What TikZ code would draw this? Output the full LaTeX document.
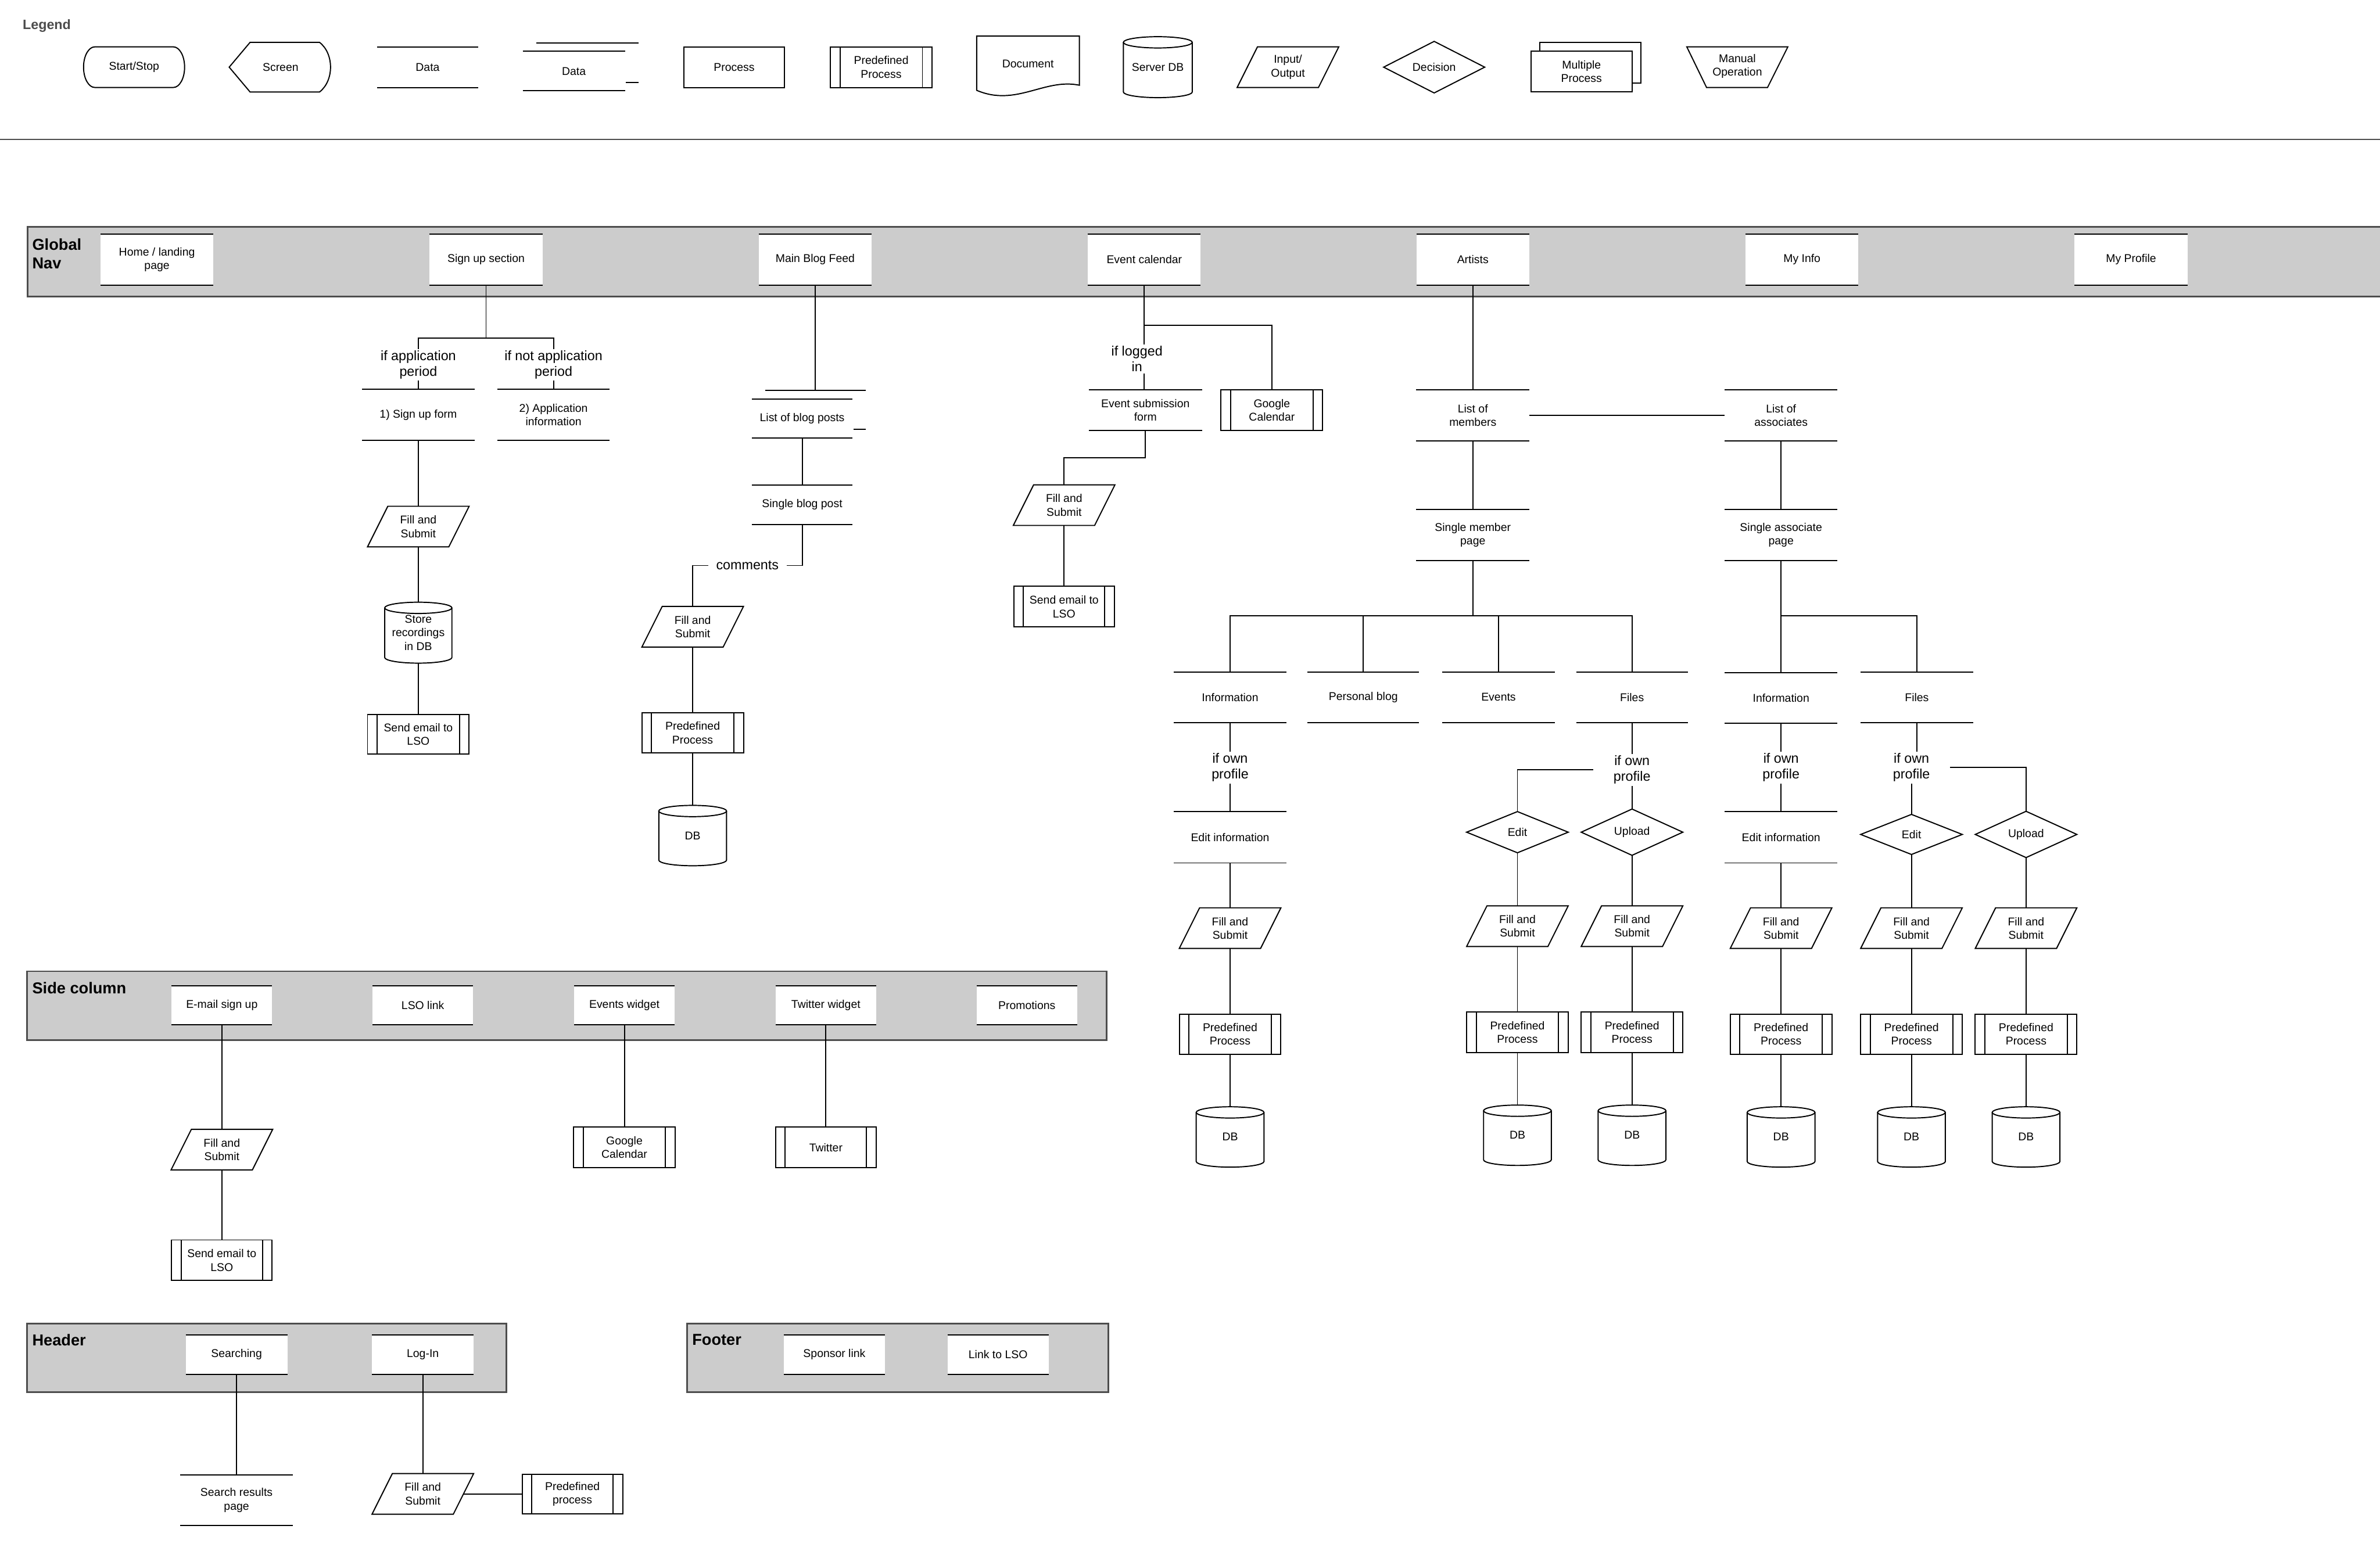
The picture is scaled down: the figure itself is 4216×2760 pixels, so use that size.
\documentclass[tikz,border=0pt]{standalone}
\usepackage{fontspec}
\setmainfont{Liberation Sans}
\usetikzlibrary{shapes.geometric,calc}
\definecolor{bandgray}{HTML}{CCCCCC}
\definecolor{bandedge}{HTML}{4D4D4D}
\tikzset{
  ln/.style={draw=black, line width=2pt},
  sz/.style 2 args={minimum width=#1pt, minimum height=#2pt},
  txt/.style={inner sep=0pt, outer sep=0pt, align=center, font=\fontsize{20}{24}\selectfont},
  lbl/.style={fill=white, inner xsep=14pt, inner ysep=3pt, outer sep=0pt, align=center, font=\fontsize{24}{28}\selectfont},
  ttl/.style={inner sep=0pt, anchor=west, align=left, font=\fontsize{28}{33}\selectfont\bfseries},
  band/.style={fill=bandgray, draw=bandedge, line width=3pt},
  datab/.style={txt, append after command={(\tikzlastnode.north west) edge[ln] (\tikzlastnode.north east) (\tikzlastnode.south west) edge[ln] (\tikzlastnode.south east)}},
  navb/.style={datab, fill=white},
  procb/.style={txt, ln, fill=white},
  predb/.style={txt, ln, fill=white, append after command={([xshift=17pt]\tikzlastnode.north west) edge[ln] ([xshift=17pt]\tikzlastnode.south west) ([xshift=-17pt]\tikzlastnode.north east) edge[ln] ([xshift=-17pt]\tikzlastnode.south east)}},
  decb/.style={txt, diamond, ln, fill=white},
}
% parallelogram (input/output)
\newcommand\mkio[4]{%
  \node[txt, sz={144}{72}] (#1) at (#2,#3) {#4};
  \draw[ln] ($(#1.north west)+(18,0)$) -- ($(#1.north east)+(18,0)$) -- ($(#1.south east)+(-18,0)$) -- ($(#1.south west)+(-18,0)$) -- cycle;}
% cylinder
\newcommand\mkcyl[6]{%
  \node[txt, sz={#4}{#5}] (#1) at (#2,#3) {#6};
  \draw[ln] ($(#1.north west)+(0,-10)$) -- ($(#1.south west)+(0,10)$) arc[start angle=180, end angle=360, x radius=#4pt/2, y radius=10pt] -- ($(#1.north east)+(0,-10)$);
  \draw[ln] ($(#1.north)+(0,-10)$) ellipse[x radius=#4pt/2, y radius=10pt];}
% data with offset line
\newcommand\mkdtwo[6]{%
  \node[datab, sz={#4}{#5}] (#1) at (#2,#3) {#6};
  \coordinate (#1-top) at ($(#1.north)+(0,15)$);
  \draw[ln] ($(#1.north west)+(24,15)$) -- ($(#1.north east)+(24,15)$);
  \draw[ln] ($(#1.south east)+(2,15)$) -- ($(#1.south east)+(24,15)$);}
\begin{document}
\begin{tikzpicture}[x=1pt,y=1pt]
\useasboundingbox (0,0) rectangle (4216,-2760);
% ---------------- Legend ----------------
\node[inner sep=0pt, anchor=west, font=\fontsize{24}{28}\selectfont\bfseries, text=black!70] (legt) at (40,-46) {Legend};
\draw[ln] (168,-83) -- (307,-83) arc[start angle=90,end angle=-90,x radius=20pt,y radius=36pt] -- (168,-155) arc[start angle=270,end angle=90,x radius=20pt,y radius=36pt] -- cycle;
\node[txt] (lss) at (237.5,-119) {Start/Stop};
\draw[ln] (443,-75) -- (566,-75) .. controls (592,-95) and (592,-143) .. (566,-163) -- (443,-163) -- (406,-119) -- cycle;
\node[txt] (lscreen) at (497,-119) {Screen};
\node[datab, sz={179}{72}] (ldata) at (757.5,-119) {Data};
\mkdtwo{ldatatwo}{1016.5}{-126}{181}{70}{Data}
\node[procb, sz={179}{72}] (lproc) at (1300.5,-119) {Process};
\node[predb, sz={180}{72}] (lpred) at (1561,-119) {Predefined\\Process};
\draw[ln] (1730,-64) -- (1912,-64) -- (1912,-151) .. controls (1850,-138) and (1800,-190) .. (1730,-160) -- cycle;
\node[txt] (ldoc) at (1821,-113) {Document};
\mkcyl{ldb}{2051}{-119}{122}{108}{Server DB}
\mkio{lio}{2281.5}{-119}{Input/\\Output}
\node[decb, sz={179}{72}] (ldec) at (2540.5,-119) {Decision};
\draw[ln] (2728,-75) rectangle (2907,-147);
\node[procb, sz={179}{72}] (lmult) at (2801.5,-127) {Multiple\\Process};
\draw[ln] (2988,-83) -- (3167,-83) -- (3131,-155) -- (3023,-155) -- cycle;
\node[txt] (lman) at (3077.5,-117) {Manual\\Operation};
\draw[draw=bandedge, line width=3pt] (0,-247) -- (4216,-247);
% ---------------- Global Nav ----------------
\draw[band] (49,-402) rectangle (4240,-525);
\node[ttl] (gnavt) at (57,-450) {Global\\Nav};
\node[navb, sz={200}{90}] (navhome) at (278,-460) {Home / landing\\page};
\node[navb, sz={200}{90}] (navsign) at (861,-460) {Sign up section};
\node[navb, sz={200}{90}] (navblog) at (1444,-460) {Main Blog Feed};
\node[navb, sz={200}{90}] (navev) at (2027,-460) {Event calendar};
\node[navb, sz={200}{90}] (navart) at (2609,-460) {Artists};
\node[navb, sz={200}{90}] (navinfo) at (3192,-460) {My Info};
\node[navb, sz={200}{90}] (navprof) at (3775,-460) {My Profile};
% ---------------- Sign up ----------------
\node[datab, sz={199}{90}] (signform) at (741,-735) {1) Sign up form};
\node[datab, sz={199}{90}] (appinfo) at (980.5,-735) {2) Application\\information};
\mkio{signfill}{741}{-933}{Fill and\\Submit}
\mkcyl{signdb}{741}{-1121}{119}{108}{Store\\recordings\\in DB}
\node[predb, sz={180}{70}] (signmail) at (741,-1301) {Send email to\\LSO};
\coordinate (signj) at (861,-599);
\draw[ln] (navsign.south) -- (signj) -| node[lbl,pos=.76] (lapp) {if application\\period} (signform.north);
\draw[ln] (signj) -| node[lbl,pos=.76] (lnapp) {if not application\\period} (appinfo.north);
\draw[ln] (signform.south) -- (signfill.north);
\draw[ln] (signfill.south) -- (signdb.north);
\draw[ln] (signdb.south) -- (signmail.north);
% ---------------- Blog ----------------
\mkdtwo{bloglist}{1421}{-741.5}{178}{69}{List of blog posts}
\node[datab, sz={178}{70}] (singlepost) at (1421,-894) {Single blog post};
\mkio{blogfill}{1227}{-1110.5}{Fill and\\Submit}
\node[predb, sz={180}{71}] (blogpred) at (1227,-1298.5) {Predefined\\Process};
\mkcyl{blogdb}{1227}{-1480.5}{120}{107}{DB}
\draw[ln] (navblog.south) -- (navblog.south |- bloglist-top);
\draw[ln] (bloglist.south) -- (singlepost.north);
\coordinate (cmj) at (1421,-1002);
\draw[ln] (singlepost.south) -- (cmj) -| node[lbl,pos=.25] (lcm) {comments} (blogfill.north);
\draw[ln] (blogfill.south) -- (blogpred.north);
\draw[ln] (blogpred.south) -- (blogdb.north);
% ---------------- Events ----------------
\node[datab, sz={201}{72}] (evform) at (2029,-727) {Event submission\\form};
\node[predb, sz={180}{72}] (gcal) at (2253,-727) {Google\\Calendar};
\mkio{evfill}{1885}{-895}{Fill and\\Submit}
\node[predb, sz={178}{72}] (evmail) at (1885,-1075) {Send email to\\LSO};
\coordinate (evj) at (2027,-576);
\draw[ln] (navev.south) -- (evj) -| (gcal.north);
\draw[ln] (evj) -- (evj |- evform.north);
\node[lbl] (llog) at (2014,-636) {if logged\\in};
\draw[ln] (evform.south) -- ++(0,-48) -| (evfill.north);
\draw[ln] (evfill.south) -- (evmail.north);
% ---------------- Artists ----------------
\node[datab, sz={201}{90}] (members) at (2609,-736) {List of\\members};
\node[datab, sz={200}{90}] (assocs) at (3155,-736) {List of\\associates};
\node[datab, sz={201}{90}] (smember) at (2609,-948) {Single member\\page};
\node[datab, sz={200}{90}] (sassoc) at (3155,-948) {Single associate\\page};
\draw[ln] (navart.south) -- (members.north);
\draw[ln] (members.east) -- (assocs.west);
\draw[ln] (members.south) -- (smember.north);
\draw[ln] (assocs.south) -- (sassoc.north);
\node[datab, sz={200}{89}] (minfo) at (2179,-1235.5) {Information};
\node[datab, sz={198}{89}] (mblog) at (2415,-1235.5) {Personal blog};
\node[datab, sz={199}{89}] (mevents) at (2654.5,-1235.5) {Events};
\node[datab, sz={198}{89}] (mfiles) at (2891,-1235.5) {Files};
\node[datab, sz={200}{89}] (ainfo) at (3155,-1236.5) {Information};
\node[datab, sz={199}{89}] (afiles) at (3395.5,-1235.5) {Files};
\coordinate (mj) at (2609,-1091);
\draw[ln] (smember.south) -- (mj);
\draw[ln] (minfo.north) |- (mj) -| (mfiles.north);
\draw[ln] (mblog.north) -- (mblog.north |- mj);
\draw[ln] (mevents.north) -- (mevents.north |- mj);
\coordinate (aj) at (3155,-1091);
\draw[ln] (sassoc.south) -- (aj) -| (afiles.north);
\draw[ln] (aj) -- (ainfo.north);
% member information chain
\node[datab, sz={200}{91}] (medit) at (2179,-1483.5) {Edit information};
\mkio{mifill}{2179}{-1644.5}{Fill and\\Submit}
\node[predb, sz={180}{71}] (mipred) at (2179,-1832.5) {Predefined\\Process};
\mkcyl{midb}{2179}{-2014.5}{120}{107}{DB}
\draw[ln] (minfo.south) -- (medit.north);
\node[lbl] (lmi) at (2179,-1360) {if own\\profile};
\draw[ln] (medit.south) -- (mifill.north);
\draw[ln] (mifill.south) -- (mipred.north);
\draw[ln] (mipred.south) -- (midb.north);
% member files chain
\node[decb, sz={180}{73}] (medec) at (2688,-1474.5) {Edit};
\node[decb, sz={180}{73}] (mupdec) at (2891,-1474.5) {Upload};
\draw[ln] (mfiles.south) -- (mupdec.north);
\node[lbl] (lmf) at (2891,-1364) {if own\\profile};
\draw[ln] ([xshift=-22pt]lmf.west) -| (medec.north);
\mkio{mefill}{2688}{-1641}{Fill and\\Submit}
\node[predb, sz={180}{72}] (mepred) at (2688,-1829) {Predefined\\Process};
\mkcyl{medb}{2688}{-2011.5}{120}{107}{DB}
\mkio{mufill}{2891}{-1641}{Fill and\\Submit}
\node[predb, sz={180}{72}] (mupred) at (2891,-1829) {Predefined\\Process};
\mkcyl{mudb}{2891}{-2011.5}{120}{107}{DB}
\draw[ln] (medec.south) -- (mefill.north);
\draw[ln] (mefill.south) -- (mepred.north);
\draw[ln] (mepred.south) -- (medb.north);
\draw[ln] (mupdec.south) -- (mufill.north);
\draw[ln] (mufill.south) -- (mupred.north);
\draw[ln] (mupred.south) -- (mudb.north);
% associate information chain
\node[datab, sz={200}{91}] (aedit) at (3155,-1483.5) {Edit information};
\mkio{aifill}{3155}{-1644.5}{Fill and\\Submit}
\node[predb, sz={180}{71}] (aipred) at (3155,-1832.5) {Predefined\\Process};
\mkcyl{aidb}{3155}{-2014.5}{120}{107}{DB}
\draw[ln] (ainfo.south) -- (aedit.north);
\node[lbl] (lai) at (3155,-1360) {if own\\profile};
\draw[ln] (aedit.south) -- (aifill.north);
\draw[ln] (aifill.south) -- (aipred.north);
\draw[ln] (aipred.south) -- (aidb.north);
% associate files chain
\node[decb, sz={180}{71}] (aedec) at (3386,-1478.5) {Edit};
\node[decb, sz={180}{71}] (aupdec) at (3589,-1478.5) {Upload};
\coordinate (lafc) at (3386,-1360);
\draw[ln] (afiles.south) -- (afiles.south |- lafc);
\draw[ln] (lafc) -- (aedec.north);
\node[lbl] (laf) at (lafc) {if own\\profile};
\draw[ln] ([xshift=22pt]laf.east) -| (aupdec.north);
\mkio{aefill}{3386}{-1644.5}{Fill and\\Submit}
\node[predb, sz={180}{71}] (aepred) at (3386,-1832.5) {Predefined\\Process};
\mkcyl{aedb}{3386}{-2014.5}{120}{107}{DB}
\mkio{aufill}{3589}{-1644.5}{Fill and\\Submit}
\node[predb, sz={180}{71}] (aupred) at (3589,-1832.5) {Predefined\\Process};
\mkcyl{audb}{3589}{-2014.5}{120}{107}{DB}
\draw[ln] (aedec.south) -- (aefill.north);
\draw[ln] (aefill.south) -- (aepred.north);
\draw[ln] (aepred.south) -- (aedb.north);
\draw[ln] (aupdec.south) -- (aufill.north);
\draw[ln] (aufill.south) -- (aupred.north);
\draw[ln] (aupred.south) -- (audb.north);
% ---------------- Side column ----------------
\draw[band] (48,-1721) rectangle (1960,-1843);
\node[ttl] (sct) at (57,-1751) {Side column};
\node[navb, sz={178}{69}] (semail) at (393,-1781.5) {E-mail sign up};
\node[navb, sz={178}{69}] (slso) at (749,-1781.5) {LSO link};
\node[navb, sz={178}{69}] (sevw) at (1106,-1781.5) {Events widget};
\node[navb, sz={178}{69}] (stww) at (1463,-1781.5) {Twitter widget};
\node[navb, sz={178}{69}] (sprom) at (1819,-1781.5) {Promotions};
\mkio{sefill}{393}{-2037}{Fill and\\Submit}
\node[predb, sz={178}{72}] (semailb) at (393,-2233) {Send email to\\LSO};
\node[predb, sz={180}{72}] (sgcal) at (1106,-2033) {Google\\Calendar};
\node[predb, sz={178}{72}] (stw) at (1463,-2033) {Twitter};
\draw[ln] (semail.south) -- (sefill.north);
\draw[ln] (sefill.south) -- (semailb.north);
\draw[ln] (sevw.south) -- (sgcal.north);
\draw[ln] (stww.south) -- (stw.north);
% ---------------- Header ----------------
\draw[band] (48,-2345) rectangle (897,-2467);
\node[ttl] (hdt) at (57,-2374) {Header};
\node[navb, sz={180}{70}] (hsearch) at (419,-2400) {Searching};
\node[navb, sz={180}{70}] (hlogin) at (749,-2400) {Log-In};
\node[datab, sz={199}{90}] (hres) at (419,-2658) {Search results\\page};
\mkio{hfill}{749}{-2647}{Fill and\\Submit}
\node[predb, sz={178}{70}] (hpred) at (1014,-2647) {Predefined\\process};
\draw[ln] (hsearch.south) -- (hres.north);
\draw[ln] (hlogin.south) -- (hfill.north);
\draw[ln] (hfill.east) -- (hpred.west);
% ---------------- Footer ----------------
\draw[band] (1217,-2345) rectangle (1963,-2467);
\node[ttl] (ftt) at (1226,-2374) {Footer};
\node[navb, sz={179}{70}] (fsp) at (1478,-2400) {Sponsor link};
\node[navb, sz={179}{70}] (flso) at (1768,-2400) {Link to LSO};
\end{tikzpicture}
\end{document}
